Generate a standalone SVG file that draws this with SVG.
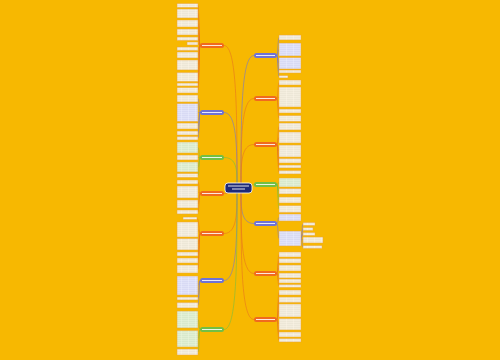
<svg xmlns="http://www.w3.org/2000/svg" width="500" height="360" viewBox="0 0 500 360">
<defs>
<pattern id="tc" width="7" height="2" patternUnits="userSpaceOnUse"><rect width="7" height="2" fill="#FFF9EA"/><rect y="0.8" width="6.6" height="0.5" fill="#7a6e5a" fill-opacity="0.45"/></pattern>
<pattern id="tb" width="7" height="2" patternUnits="userSpaceOnUse"><rect width="7" height="2" fill="#EEF0FF"/><rect y="0.8" width="6.6" height="0.5" fill="#4d50b0" fill-opacity="0.45"/></pattern>
<pattern id="tg" width="7" height="2" patternUnits="userSpaceOnUse"><rect width="7" height="2" fill="#EEF8E4"/><rect y="0.8" width="6.6" height="0.5" fill="#4f8a30" fill-opacity="0.45"/></pattern>
</defs>
<style>
.c,.b,.g{stroke:#EBA43A;stroke-width:.5}
.c{fill:url(#tc)}.b{fill:url(#tb)}.g{fill:url(#tg)}
.no{fill:#F06A1E}.nb{fill:#6E72D6}.ng{fill:#72BF44}
.t{fill:#fff;fill-opacity:.85}
#conn path{fill:none;stroke-width:.6}
.lo{stroke:#E8731E}.lb{stroke:#7276D0}.lg{stroke:#78BE3E}
</style>
<rect width="500" height="360" fill="#F7B801"/>
<g id="conn">
<path class="lo" d="M237 184C237 114.8 237 45.5 224 45.5"/>
<path class="lb" d="M237 184C237 148.3 237 112.5 224 112.5"/>
<path class="lg" d="M237 184C237 170.8 237 157.5 224 157.5"/>
<path class="lo" d="M229 192C229 193.5 227 193.5 224 193.5"/>
<path class="lo" d="M237 192C237 212.8 237 233.5 224 233.5"/>
<path class="lb" d="M237 192C237 236.3 237 280.5 224 280.5"/>
<path class="lg" d="M237 192C237 260.8 237 329.5 224 329.5"/>
<path class="lb" d="M241 184C241 119.8 241 55.5 254 55.5"/>
<path class="lo" d="M241 184C241 141.3 241 98.5 254 98.5"/>
<path class="lo" d="M241 184C241 164.3 241 144.5 254 144.5"/>
<path class="lg" d="M251 186C252 186 253 184.5 254 184.5"/>
<path class="lb" d="M241 192C241 207.8 241 223.5 254 223.5"/>
<path class="lo" d="M241 192C241 232.8 241 273.5 254 273.5"/>
<path class="lo" d="M241 192C241 255.8 241 319.5 254 319.5"/>
<path class="lo" d="M200 45.5C199 45.5 199 5.5 198 5.5M200 45.5C199 45.5 199 13.5 198 13.5M200 45.5C199 45.5 199 23.5 198 23.5M200 45.5C199 45.5 199 32 198 32M200 45.5C199 45.5 199 38.75 198 38.75M200 45.5C199 45.5 199 43.5 198 43.5M200 45.5C199 45.5 199 48.75 198 48.75M200 45.5C199 45.5 199 55 198 55M200 45.5C199 45.5 199 65 198 65M200 45.5C199 45.5 199 77 198 77M200 45.5C199 45.5 199 84.5 198 84.5M200 45.5C199 45.5 199 90.25 198 90.25"/>
<path class="lb" d="M200 112.5C199 112.5 199 98.5 198 98.5M200 112.5C199 112.5 199 112.5 198 112.5M200 112.5C199 112.5 199 126 198 126M200 112.5C199 112.5 199 133 198 133M200 112.5C199 112.5 199 138.25 198 138.25"/>
<path class="lg" d="M200 157.5C199 157.5 199 147.5 198 147.5M200 157.5C199 157.5 199 157.5 198 157.5M200 157.5C199 157.5 199 167 198 167M200 157.5C199 157.5 199 175.5 198 175.5"/>
<path class="lo" d="M200 193.5C199 193.5 199 182 198 182M200 193.5C199 193.5 199 192 198 192M200 193.5C199 193.5 199 204 198 204M200 193.5C199 193.5 199 212 198 212"/>
<path class="lo" d="M200 233.5C199 233.5 199 218.25 197 218.25M200 233.5C199 233.5 199 229.5 198 229.5M200 233.5C199 233.5 199 244.25 198 244.25M200 233.5C199 233.5 199 254 198 254M200 233.5C199 233.5 199 260.5 198 260.5M200 233.5C199 233.5 199 269 198 269"/>
<path class="lb" d="M200 280.5C199 280.5 199 285.5 198 285.5M200 280.5C199 280.5 199 298.5 198 298.5M200 280.5C199 280.5 199 305.25 198 305.25"/>
<path class="lg" d="M200 329.5C199 329.5 199 319.5 198 319.5M200 329.5C199 329.5 199 338.75 198 338.75M200 329.5C199 329.5 199 352 198 352"/>
<path class="lb" d="M277 55.5C278 55.5 278 37.5 279 37.5M277 55.5C278 55.5 278 49.5 279 49.5M277 55.5C278 55.5 278 63.25 279 63.25M277 55.5C278 55.5 278 71.5 279 71.5M277 55.5C278 55.5 278 76.75 279 76.75"/>
<path class="lo" d="M277 98.5C278 98.5 278 82.5 279 82.5M277 98.5C278 98.5 278 97 279 97M277 98.5C278 98.5 278 111 279 111M277 98.5C278 98.5 278 118.5 279 118.5"/>
<path class="lo" d="M277 144.5C278 144.5 278 126.5 279 126.5M277 144.5C278 144.5 278 137.5 279 137.5M277 144.5C278 144.5 278 151 279 151M277 144.5C278 144.5 278 160.75 279 160.75M277 144.5C278 144.5 278 166.5 279 166.5M277 144.5C278 144.5 278 172.25 279 172.25"/>
<path class="lg" d="M277 184.5C278 184.5 278 182.5 279 182.5M277 184.5C278 184.5 278 191.25 279 191.25M277 184.5C278 184.5 278 200 279 200M277 184.5C278 184.5 278 209 279 209"/>
<path class="lb" d="M277 223.5C278 223.5 278 217.5 279 217.5M277 223.5C278 223.5 278 238.5 279 238.5"/>
<path class="lb" d="M301 238.5C302 238.5 302 224 303 224M301 238.5C302 238.5 302 229 303 229M301 238.5C302 238.5 302 234 303 234M301 238.5C302 238.5 302 240 303 240M301 238.5C302 238.5 302 247 303 247"/>
<path class="lo" d="M277 273.5C278 273.5 278 254.5 279 254.5M277 273.5C278 273.5 278 260.75 279 260.75M277 273.5C278 273.5 278 268 279 268M277 273.5C278 273.5 278 275.5 279 275.5M277 273.5C278 273.5 278 281 279 281M277 273.5C278 273.5 278 286 279 286"/>
<path class="lo" d="M277 319.5C278 319.5 278 292.5 279 292.5M277 319.5C278 319.5 278 299.75 279 299.75M277 319.5C278 319.5 278 310.5 279 310.5M277 319.5C278 319.5 278 324.25 279 324.25M277 319.5C278 319.5 278 334.5 279 334.5M277 319.5C278 319.5 278 340.25 279 340.25"/>
</g>
<g id="center"><rect x="225" y="183" width="27" height="10" rx="3" fill="#1E2A78" stroke="#fff" stroke-width=".8"/><rect class="t" x="228" y="185.5" width="21" height="1"/><rect class="t" x="232" y="188.5" width="13" height="1"/></g>
<g id="nl1"><rect class="no" x="200" y="43" width="24" height="5" rx="2.5"/><rect class="t" x="202" y="45" width="20" height="1"/></g>
<g id="nl2"><rect class="nb" x="200" y="110" width="24" height="5" rx="2.5"/><rect class="t" x="202" y="112" width="20" height="1"/></g>
<g id="nl3"><rect class="ng" x="200" y="155" width="24" height="5" rx="2.5"/><rect class="t" x="202" y="157" width="20" height="1"/></g>
<g id="nl4"><rect class="no" x="200" y="191" width="24" height="5" rx="2.5"/><rect class="t" x="202" y="193" width="20" height="1"/></g>
<g id="nl5"><rect class="no" x="200" y="231" width="24" height="5" rx="2.5"/><rect class="t" x="202" y="233" width="20" height="1"/></g>
<g id="nl6"><rect class="nb" x="200" y="278" width="24" height="5" rx="2.5"/><rect class="t" x="202" y="280" width="20" height="1"/></g>
<g id="nl7"><rect class="ng" x="200" y="327" width="24" height="5" rx="2.5"/><rect class="t" x="202" y="329" width="20" height="1"/></g>
<g id="nr1"><rect class="nb" x="254" y="53" width="23" height="5" rx="2.5"/><rect class="t" x="256" y="55" width="19" height="1"/></g>
<g id="nr2"><rect class="no" x="254" y="96" width="23" height="5" rx="2.5"/><rect class="t" x="256" y="98" width="19" height="1"/></g>
<g id="nr3"><rect class="no" x="254" y="142" width="23" height="5" rx="2.5"/><rect class="t" x="256" y="144" width="19" height="1"/></g>
<g id="nr4"><rect class="ng" x="254" y="182" width="23" height="5" rx="2.5"/><rect class="t" x="256" y="184" width="19" height="1"/></g>
<g id="nr5"><rect class="nb" x="254" y="221" width="23" height="5" rx="2.5"/><rect class="t" x="256" y="223" width="19" height="1"/></g>
<g id="nr6"><rect class="no" x="254" y="271" width="23" height="5" rx="2.5"/><rect class="t" x="256" y="273" width="19" height="1"/></g>
<g id="nr7"><rect class="no" x="254" y="317" width="23" height="5" rx="2.5"/><rect class="t" x="256" y="319" width="19" height="1"/></g>
<g id="l1"><rect class="c" x="177" y="3.5" width="21" height="4"/></g>
<g id="l2"><rect class="c" x="177" y="9" width="21" height="9"/></g>
<g id="l3"><rect class="c" x="177" y="20" width="21" height="7"/></g>
<g id="l4"><rect class="c" x="177" y="29" width="21" height="6"/></g>
<g id="l5"><rect class="c" x="177" y="37" width="21" height="3.5"/></g>
<g id="l6"><rect class="c" x="187" y="42" width="11" height="3"/></g>
<g id="l7"><rect class="c" x="177" y="47" width="21" height="3.5"/></g>
<g id="l8"><rect class="c" x="177" y="52" width="21" height="6"/></g>
<g id="l9"><rect class="c" x="177" y="60" width="21" height="10"/></g>
<g id="l10"><rect class="c" x="177" y="72.5" width="21" height="9"/></g>
<g id="l11"><rect class="c" x="177" y="83" width="21" height="3"/></g>
<g id="l12"><rect class="c" x="177" y="87.5" width="21" height="5.5"/></g>
<g id="l14"><rect class="c" x="177" y="95" width="21" height="7"/></g>
<g id="l15"><rect class="b" x="177" y="103.5" width="21" height="18"/></g>
<g id="l16"><rect class="c" x="177" y="123" width="21" height="6"/></g>
<g id="l17"><rect class="c" x="177" y="131" width="21" height="4"/></g>
<g id="l18"><rect class="c" x="177" y="136.5" width="21" height="3.5"/></g>
<g id="l19"><rect class="g" x="177" y="142" width="21" height="11"/></g>
<g id="l20"><rect class="c" x="177" y="155" width="21" height="5"/></g>
<g id="l21"><rect class="g" x="177" y="162" width="21" height="10"/></g>
<g id="l22"><rect class="c" x="177" y="173.5" width="21" height="4"/></g>
<g id="l23"><rect class="c" x="177" y="180" width="21" height="4"/></g>
<g id="l24"><rect class="c" x="177" y="186" width="21" height="12"/></g>
<g id="l25"><rect class="c" x="177" y="200" width="21" height="8"/></g>
<g id="l26"><rect class="c" x="177" y="210" width="21" height="4"/></g>
<g id="l27"><rect class="c" x="183" y="217" width="14" height="2.5"/></g>
<g id="l28"><rect class="c" x="177" y="222" width="21" height="15"/></g>
<g id="l29"><rect class="c" x="177" y="238.5" width="21" height="11.5"/></g>
<g id="l30"><rect class="c" x="177" y="252" width="21" height="4"/></g>
<g id="l31"><rect class="c" x="177" y="258" width="21" height="5"/></g>
<g id="l32"><rect class="c" x="177" y="265" width="21" height="8"/></g>
<g id="l33"><rect class="b" x="177" y="276" width="21" height="19"/></g>
<g id="l34"><rect class="c" x="177" y="297" width="21" height="3"/></g>
<g id="l35"><rect class="c" x="177" y="302.5" width="21" height="5.5"/></g>
<g id="l36"><rect class="g" x="177" y="311" width="21" height="17"/></g>
<g id="l37"><rect class="g" x="177" y="330.5" width="21" height="16.5"/></g>
<g id="l38"><rect class="c" x="177" y="349" width="21" height="6"/></g>
<g id="r1"><rect class="c" x="279" y="35" width="22" height="5"/></g>
<g id="r2"><rect class="b" x="279" y="43" width="22" height="13"/></g>
<g id="r3"><rect class="b" x="279" y="57.5" width="22" height="11.5"/></g>
<g id="r4"><rect class="c" x="279" y="70" width="22" height="3"/></g>
<g id="r5"><rect class="c" x="279" y="75.5" width="9" height="2.5"/></g>
<g id="r6"><rect class="c" x="279" y="80" width="22" height="5"/></g>
<g id="r7"><rect class="c" x="279" y="87" width="22" height="20"/></g>
<g id="r8"><rect class="c" x="279" y="109" width="22" height="4"/></g>
<g id="r9"><rect class="c" x="279" y="115.5" width="22" height="6"/></g>
<g id="r10"><rect class="c" x="279" y="123" width="22" height="7"/></g>
<g id="r11"><rect class="c" x="279" y="132" width="22" height="11"/></g>
<g id="r12"><rect class="c" x="279" y="145" width="22" height="12"/></g>
<g id="r13"><rect class="c" x="279" y="158.5" width="22" height="4.5"/></g>
<g id="r14"><rect class="c" x="279" y="165" width="22" height="3"/></g>
<g id="r15"><rect class="c" x="279" y="170.5" width="22" height="3.5"/></g>
<g id="r16"><rect class="g" x="279" y="178" width="22" height="9"/></g>
<g id="r17"><rect class="c" x="279" y="188.5" width="22" height="5.5"/></g>
<g id="r18"><rect class="c" x="279" y="197" width="22" height="6"/></g>
<g id="r19"><rect class="c" x="279" y="205.5" width="22" height="7"/></g>
<g id="r20"><rect class="b" x="279" y="214" width="22" height="7"/></g>
<g id="r21"><rect class="b" x="279" y="231" width="22" height="15"/></g>
<g id="s1"><rect class="c" x="303" y="222.5" width="12" height="3"/></g>
<g id="s2"><rect class="c" x="303" y="227.5" width="10" height="3"/></g>
<g id="s3"><rect class="c" x="303" y="232.5" width="12" height="3"/></g>
<g id="s4"><rect class="c" x="303" y="237" width="20" height="6"/></g>
<g id="s5"><rect class="c" x="303" y="245.5" width="19" height="3"/></g>
<g id="r22"><rect class="c" x="279" y="252" width="22" height="5"/></g>
<g id="r23"><rect class="c" x="279" y="258.5" width="22" height="4.5"/></g>
<g id="r24"><rect class="c" x="279" y="265" width="22" height="6"/></g>
<g id="r25"><rect class="c" x="279" y="273" width="22" height="5"/></g>
<g id="r26"><rect class="c" x="279" y="279" width="22" height="4"/></g>
<g id="r27"><rect class="c" x="279" y="284.5" width="22" height="3"/></g>
<g id="r28"><rect class="c" x="279" y="290" width="22" height="5"/></g>
<g id="r29"><rect class="c" x="279" y="297" width="22" height="5.5"/></g>
<g id="r30"><rect class="c" x="279" y="304" width="22" height="13"/></g>
<g id="r31"><rect class="c" x="279" y="318.5" width="22" height="11.5"/></g>
<g id="r32"><rect class="c" x="279" y="332" width="22" height="5"/></g>
<g id="r33"><rect class="c" x="279" y="338.5" width="22" height="3.5"/></g>
</svg>
